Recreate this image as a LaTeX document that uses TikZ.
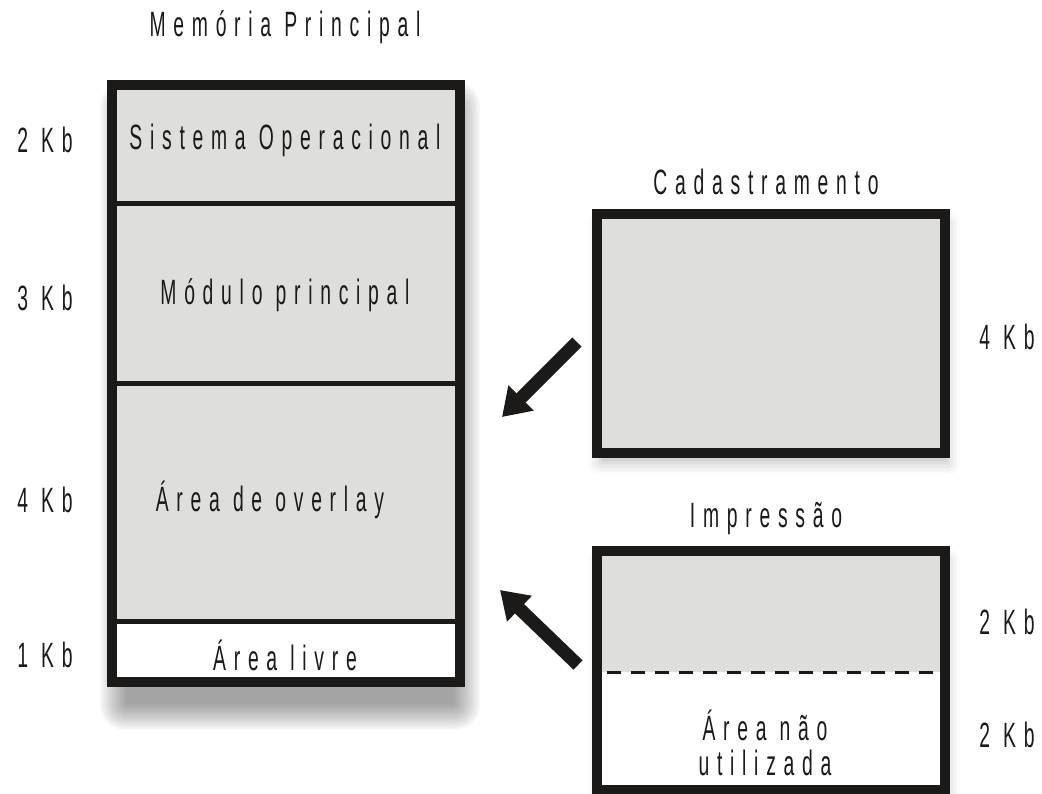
\documentclass[tikz,border=0pt]{standalone}
\usepackage{fontspec}
\setmainfont{Liberation Sans}[FakeStretch=0.55,LetterSpace=22]
\usetikzlibrary{arrows.meta,shadows.blur}

\definecolor{ink}{HTML}{1C1A18}
\definecolor{memgray}{HTML}{DEDEDD}

\tikzset{
    lbl/.style={text=ink, font=\fontsize{10}{12}\selectfont, inner sep=0pt},
    frame/.style={draw=ink, line width=0.1cm},
    divider/.style={draw=ink, line width=0.05cm},
    bigarrow/.style={draw=ink, line width=0.13cm, -{Triangle[length=0.27cm, width=0.34cm]}},
    softshadow/.style={blur shadow={shadow xshift=0.03cm, shadow yshift=-0.1cm, shadow blur radius=0.12cm, shadow opacity=25}},
}

\begin{document}
\begin{tikzpicture}[x=0.01cm, y=-0.01cm]
    \useasboundingbox (0,0) rectangle (1042,793);

    % memoria principal
    \coordinate (mem_tl) at (112,85);
    \coordinate (mem_br) at (460,682);
    \coordinate (cut_a) at (112,203);
    \coordinate (cut_b) at (112,383);
    \coordinate (cut_c) at (112,621);

    % sombra difusa
    \foreach \i in {1,...,14}
        \fill[black, opacity=0.03, rounded corners=\i*0.5pt]
            (128-\i*2,110-\i*2) rectangle (452+\i*2,702+\i*2);

    \fill[white] (mem_tl) rectangle (mem_br);
    \fill[memgray] (mem_tl) rectangle (cut_c -| mem_br);
    \draw[divider] (cut_a) -- (cut_a -| mem_br);
    \draw[divider] (cut_b) -- (cut_b -| mem_br);
    \draw[divider] (cut_c) -- (cut_c -| mem_br);
    \draw[frame] (mem_tl) rectangle (mem_br);

    \node[lbl] (mem_title) at (285,27) {Memória Principal};
    \node[lbl] (so) at (285,140) {Sistema Operacional};
    \node[lbl] (modulo) at (285,295) {Módulo principal};
    \node[lbl] (overlay) at (270,500) {Área de overlay};
    \node[lbl] (livre) at (285,655) {Área livre};

    \node[lbl] (kb_so) at (45,140) {2 Kb};
    \node[lbl] (kb_mod) at (45,298) {3 Kb};
    \node[lbl] (kb_ovl) at (45,500) {4 Kb};
    \node[lbl] (kb_liv) at (45,655) {1 Kb};

    % cadastramento
    \coordinate (cad_tl) at (597,214);
    \coordinate (cad_br) at (945,453);
    \fill[memgray, softshadow] (cad_tl) rectangle (cad_br);
    \draw[frame] (cad_tl) rectangle (cad_br);
    \node[lbl] (cad_title) at (766,182) {Cadastramento};
    \node[lbl] (kb_cad) at (1007,337) {4 Kb};

    % impressao
    \coordinate (imp_tl) at (597,551);
    \coordinate (imp_br) at (945,790);
    \coordinate (imp_cut) at (597,672);
    \fill[white, softshadow] (imp_tl) rectangle (imp_br);
    \fill[memgray] (imp_tl) rectangle (imp_cut -| imp_br);
    \draw[ink, line width=0.03cm, dash pattern=on 0.14cm off 0.1cm] ([xshift=0.1cm]imp_cut) -- ([xshift=-0.12cm]imp_cut -| imp_br);
    \draw[frame] (imp_tl) rectangle (imp_br);
    \node[lbl] (imp_title) at (766,519) {Impressão};
    \node[lbl, align=center, font=\fontsize{10}{9.8}\selectfont] (nao_usada) at (765,743) {Área não\\utilizada};
    \node[lbl] (kb_imp1) at (1007,622) {2 Kb};
    \node[lbl] (kb_imp2) at (1007,735) {2 Kb};

    % setas
    \coordinate (cad_out) at (577,342);
    \coordinate (ovl_in) at (502,417);
    \coordinate (imp_out) at (578,665);
    \coordinate (ovl_back) at (500,590);

    \draw[bigarrow] (cad_out) -- (ovl_in);
    \draw[bigarrow] (imp_out) -- (ovl_back);
\end{tikzpicture}
\end{document}
